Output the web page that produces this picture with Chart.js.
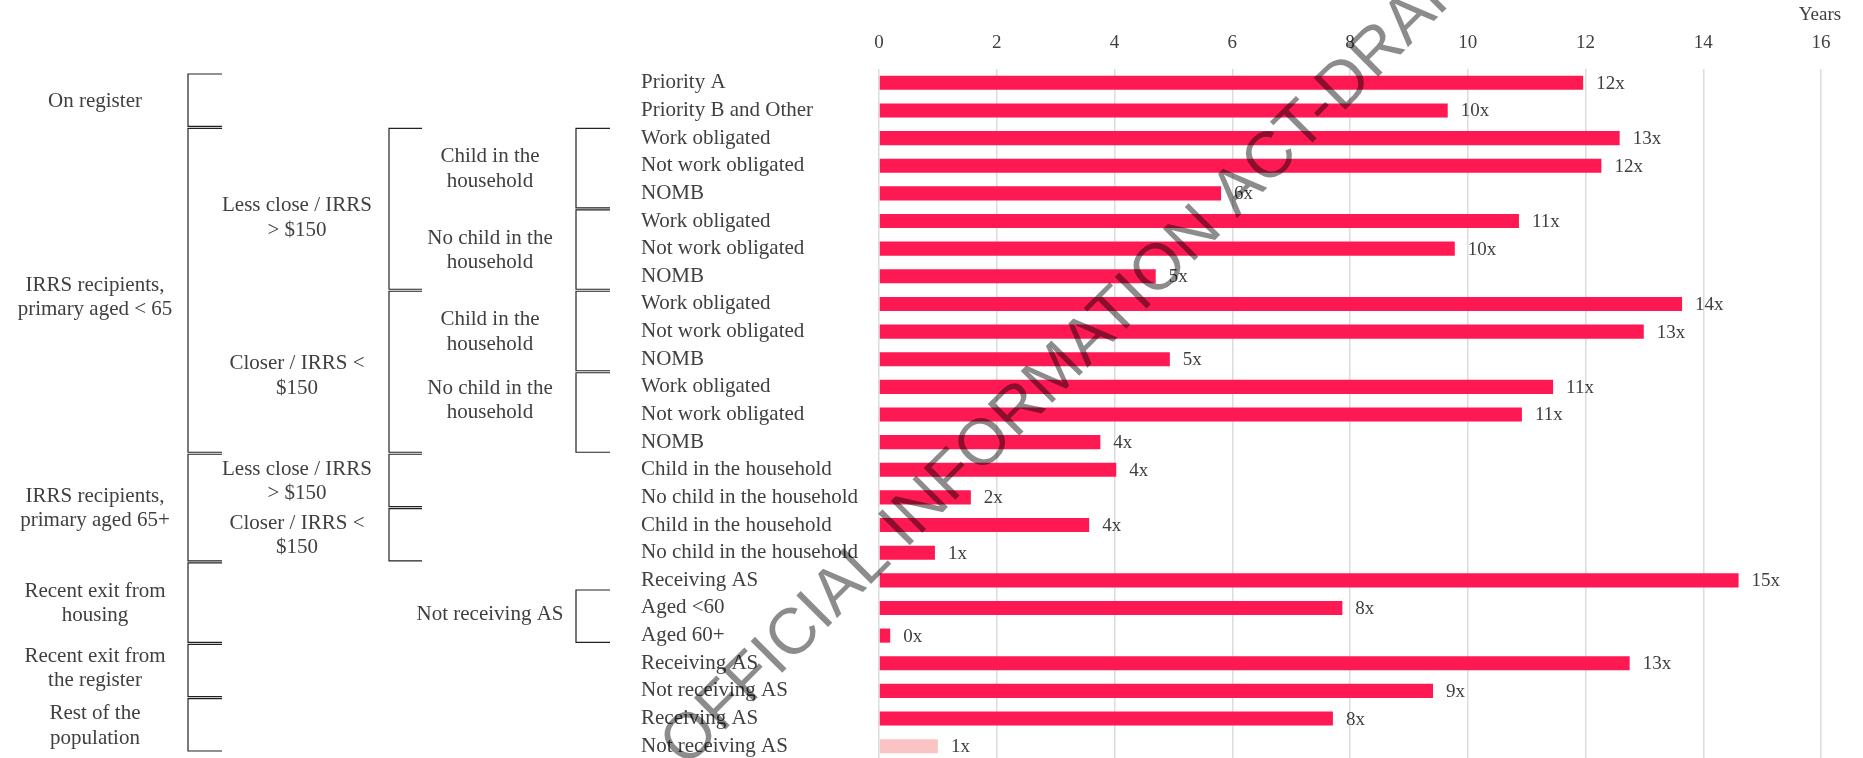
<!DOCTYPE html>
<html>
<head>
<meta charset="utf-8">
<script src="https://cdn.jsdelivr.net/npm/chart.js@4.4.1/dist/chart.umd.min.js"></script>
<style>
html,body{margin:0;padding:0;background:#ffffff;overflow:hidden;}
#wrap{position:relative;width:1863px;height:761px;}
</style>
</head>
<body>
<div id="wrap"><canvas id="c" width="1863" height="761"></canvas></div>
<script>
// ---------- data ----------
const categories = [
  'Priority A','Priority B and Other',
  'Work obligated','Not work obligated','NOMB',
  'Work obligated','Not work obligated','NOMB',
  'Work obligated','Not work obligated','NOMB',
  'Work obligated','Not work obligated','NOMB',
  'Child in the household','No child in the household',
  'Child in the household','No child in the household',
  'Receiving AS','Aged <60','Aged 60+',
  'Receiving AS','Not receiving AS',
  'Receiving AS','Not receiving AS'
];
const yearsValues = [
  11.96, 9.66,
  12.58, 12.27, 5.81,
  10.87, 9.78, 4.70,
  13.64, 12.99, 4.94,
  11.45, 10.92, 3.76,
  4.03, 1.56,
  3.57, 0.95,
  14.60, 7.87, 0.19,
  12.75, 9.41,
  7.71, 1.00
];
const ratioLabels = [
  '12x','10x',
  '13x','12x','6x',
  '11x','10x','5x',
  '14x','13x','5x',
  '11x','11x','4x',
  '4x','2x',
  '4x','1x',
  '15x','8x','0x',
  '13x','9x',
  '8x','1x'
];
const xTickValues = [0,2,4,6,8,10,12,14,16];
const xAxisUnit = 'Years';
const referenceCategoryIndex = 24;

// hierarchy groups: [label lines, first category index, last category index]
const level1Groups = [
  [['On register'], 0, 1],
  [['IRRS recipients,','primary aged < 65'], 2, 13],
  [['IRRS recipients,','primary aged 65+'], 14, 17],
  [['Recent exit from','housing'], 18, 20],
  [['Recent exit from','the register'], 21, 22],
  [['Rest of the','population'], 23, 24]
];
const level2Groups = [
  [['Less close / IRRS','> $150'], 2, 7],
  [['Closer / IRRS <','$150'], 8, 13],
  [['Less close / IRRS','> $150'], 14, 15],
  [['Closer / IRRS <','$150'], 16, 17]
];
const level3Groups = [
  [['Child in the','household'], 2, 4],
  [['No child in the','household'], 5, 7],
  [['Child in the','household'], 8, 10],
  [['No child in the','household'], 11, 13],
  [['Not receiving AS'], 19, 20]
];
const watermarkText = 'OFFICIAL INFORMATION ACT-DRAFT';

// ---------- styles ----------
const TEXT = '#404040';
const SERIF = "'Liberation Serif','Times New Roman',serif";
const BAR = '#FF1952';
const BAR_REF = '#FBC4C4';

const levelStyle = [
  {textX: 95,  lineX: 188, tickX: 222},
  {textX: 297, lineX: 389, tickX: 422},
  {textX: 490, lineX: 576, tickX: 610}
];
// small vertical nudges of some group captions (level-groupIndex -> px)
const captionNudge = {'0-1': 6, '0-4': -3, '1-0': 8, '1-1': 3, '2-3': -13, '2-4': -3};

const hierarchyPlugin = {
  id: 'hierarchy',
  afterDraw(chart) {
    const ctx = chart.ctx;
    const ys = chart.scales.y;
    const xs = chart.scales.x;
    const ca = chart.chartArea;
    const tableY = px => ca.top + 4 + (px - ca.top) * 0.9826;
    const edgeTop = i => tableY(ys.getPixelForValue(i - 0.5));
    const edgeBot = i => tableY(ys.getPixelForValue(i + 0.5));

    ctx.save();
    // data labels
    ctx.font = '19px ' + SERIF;
    ctx.fillStyle = TEXT;
    ctx.textAlign = 'left';
    ctx.textBaseline = 'middle';
    const meta = chart.getDatasetMeta(0);
    meta.data.forEach((el, i) => {
      ctx.fillText(ratioLabels[i], el.x + 13, el.y + 1);
    });

    // axis unit
    ctx.textAlign = 'center';
    ctx.fillText(xAxisUnit, xs.getPixelForValue(16) - 1, 15);

    // hierarchy brackets + labels
    const levels = [level1Groups, level2Groups, level3Groups];
    levels.forEach((groups, li) => {
      const st = levelStyle[li];
      groups.forEach(([lines, a, b], gi) => {
        const y0 = edgeTop(a) + 1;
        const y1 = edgeBot(b) - 1;
        ctx.strokeStyle = '#222222';
        ctx.lineWidth = 1.2;
        ctx.beginPath();
        ctx.moveTo(st.tickX, y0);
        ctx.lineTo(st.lineX, y0);
        ctx.lineTo(st.lineX, y1);
        ctx.lineTo(st.tickX, y1);
        ctx.stroke();
        const mid = (y0 + y1) / 2 + (captionNudge[li + '-' + gi] || 0);
        const lh = 24.5;
        ctx.font = '21px ' + SERIF;
        ctx.fillStyle = TEXT;
        ctx.textAlign = 'center';
        ctx.textBaseline = 'middle';
        lines.forEach((t, k) => {
          ctx.fillText(t, st.textX, mid + (k - (lines.length - 1) / 2) * lh + 1);
        });
      });
    });

    // watermark
    ctx.font = "65px 'Liberation Sans', Arial, sans-serif";
    ctx.fillStyle = 'rgba(0,0,0,0.45)';
    ctx.textAlign = 'left';
    ctx.textBaseline = 'alphabetic';
    ctx.translate(686, 769);
    ctx.rotate(-Math.PI / 4);
    ctx.fillText(watermarkText, 0, 0);
    ctx.restore();
  }
};

const bgPlugin = {
  id: 'bg',
  beforeDraw(chart) {
    const ctx = chart.ctx;
    ctx.save();
    ctx.fillStyle = '#ffffff';
    ctx.fillRect(0, 0, chart.width, chart.height);
    ctx.restore();
  }
};

new Chart(document.getElementById('c'), {
  type: 'bar',
  data: {
    labels: categories,
    datasets: [{
      data: yearsValues,
      backgroundColor: c => c.dataIndex === referenceCategoryIndex ? BAR_REF : BAR,
      borderWidth: 0,
      barPercentage: 0.51,
      categoryPercentage: 1.0
    }]
  },
  options: {
    indexAxis: 'y',
    responsive: false,
    animation: false,
    devicePixelRatio: 1,
    layout: {padding: {left: 641, right: 42, top: 0, bottom: 1}},
    plugins: {legend: {display: false}, tooltip: {enabled: false}},
    scales: {
      x: {
        type: 'linear',
        position: 'top',
        min: 0, max: 16,
        afterBuildTicks: s => { s.ticks = xTickValues.map(v => ({value: v})); },
        afterFit: s => { s.height = 69; s.paddingLeft = 0; s.paddingRight = 0; },
        grid: {color: '#dcdcdc', lineWidth: 1.5, drawTicks: false},
        border: {display: false},
        ticks: {font: {family: SERIF, size: 19}, color: TEXT, padding: 15}
      },
      y: {
        afterFit: s => { s.width = 238; s.paddingTop = 0; s.paddingBottom = 0; },
        grid: {display: false},
        border: {display: false},
        ticks: {font: {family: SERIF, size: 21}, color: TEXT, crossAlign: 'far', padding: 0, autoSkip: false}
      }
    }
  },
  plugins: [bgPlugin, hierarchyPlugin]
});
</script>
</body>
</html>
